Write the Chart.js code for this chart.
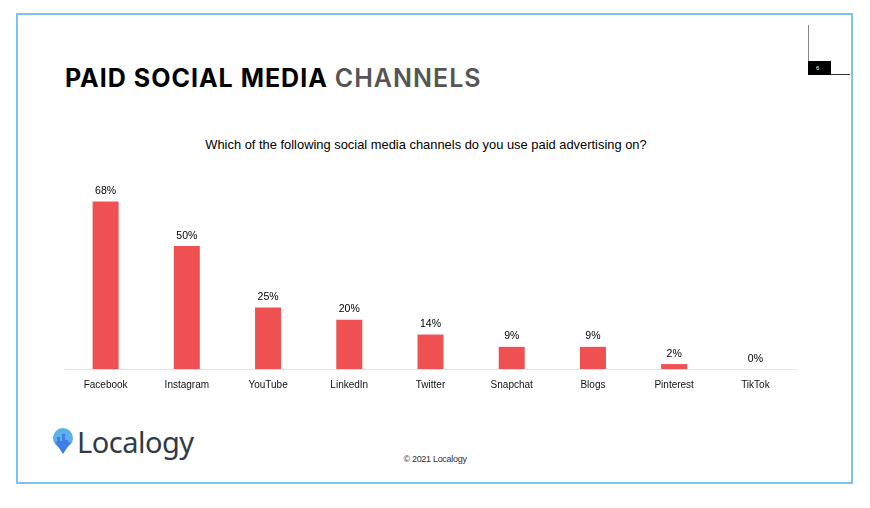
<!DOCTYPE html>
<html>
<head>
<meta charset="utf-8">
<script src="https://cdn.jsdelivr.net/npm/chart.js@4"></script>
<style>
  html, body { margin: 0; padding: 0; background: #fff; }
  body { width: 870px; height: 508px; position: relative; overflow: hidden; font-family: "Liberation Sans", Arial, sans-serif; }
  .frame { position: absolute; left: 16px; top: 13px; width: 833px; height: 467px; border: 2px solid #7cc3ef; }
  .title { position: absolute; left: 65px; top: 63px; font-family: Inter, "Liberation Sans", sans-serif; font-weight: 700; font-size: 25px; letter-spacing: 1px; color: #000; white-space: nowrap; }
  .title span { color: #555; font-weight: 600; }
  .pg-line { position: absolute; left: 808px; top: 25px; width: 1px; height: 50px; background: #888; }
  .pg-box { position: absolute; left: 808px; top: 61px; width: 23px; height: 14px; background: #000; color: #fff; font-size: 6px; line-height: 14px; text-indent: 8px; }
  .pg-rule { position: absolute; left: 831px; top: 74px; width: 19px; height: 1px; background: #333; }
  .question { position: absolute; left: 0; width: 852px; top: 137px; text-align: center; font-family: "Liberation Sans", sans-serif; font-size: 12.9px; color: #000; }
  #wrap { position: absolute; left: 60px; top: 172px; width: 741px; height: 221px; }
  .logo { position: absolute; left: 52px; top: 428px; }
  .logo-text { position: absolute; left: 77px; top: 422px; font-family: "Noto Sans", sans-serif; font-size: 29px; color: #303b46; letter-spacing: -0.5px; }
  .copy { position: absolute; left: 0; width: 870px; top: 454px; text-align: center; font-family: "Liberation Sans", sans-serif; font-size: 9px; letter-spacing: -0.3px; color: #333; }
</style>
</head>
<body>
<div class="frame"></div>
<div class="title">PAID SOCIAL MEDIA <span>CHANNELS</span></div>
<div class="pg-line"></div>
<div class="pg-box">6</div>
<div class="pg-rule"></div>
<div class="question">Which of the following social media channels do you use paid advertising on?</div>
<div id="wrap"><canvas id="chart"></canvas></div>
<svg class="logo" viewBox="0 0 22 30" width="22" height="30">
  <circle cx="11" cy="10" r="10" fill="#5bb0ea"/>
  <path d="M3 14 L11 26 L19 14 Z" fill="#3d7fe6"/>
  <path d="M5 18 L5 9 L8 9 L8 13 L10 13 L10 6 L13 6 L13 12 L16 12 L16 18 Z" fill="#3d7fe6"/>
</svg>
<div class="logo-text">Localogy</div>
<div class="copy">© 2021 Localogy</div>

<script>
const channels = ["Facebook", "Instagram", "YouTube", "LinkedIn", "Twitter", "Snapchat", "Blogs", "Pinterest", "TikTok"];
const shares = [68, 50, 25, 20, 14, 9, 9, 2, 0];
const barColor = "#ef5152";

// labels on top of the bars
const valueLabels = {
    id: "valueLabels",
    afterDatasetsDraw(chart) {
        const ctx = chart.ctx;
        const meta = chart.getDatasetMeta(0);
        ctx.save();
        ctx.font = '10.5px "Liberation Sans", sans-serif';
        ctx.fillStyle = "#000";
        ctx.textAlign = "center";
        ctx.textBaseline = "bottom";
        meta.data.forEach((bar, i) => {
            ctx.fillText(shares[i] + "%", bar.x, bar.y - 5);
        });
        ctx.restore();
    }
};

new Chart(document.getElementById("chart"), {
    type: "bar",
    data: {
        labels: channels,
        datasets: [{
            data: shares,
            backgroundColor: barColor,
            borderWidth: 0,
            categoryPercentage: 1,
            barPercentage: 0.32,
        }]
    },
    options: {
        responsive: true,
        maintainAspectRatio: false,
        animation: false,
        layout: { padding: { left: 5, right: 5, top: 0, bottom: 0 } },
        scales: {
            x: {
                grid: { display: false },
                border: { display: true, color: "#e3e3e3", width: 1 },
                ticks: {
                    color: "#111",
                    padding: 2,
                    font: { family: "Liberation Sans", size: 10 }
                }
            },
            y: {
                display: false,
                min: 0,
                max: 80
            }
        },
        plugins: {
            legend: { display: false },
            tooltip: { enabled: false }
        }
    },
    plugins: [valueLabels]
});
</script>
</body>
</html>
